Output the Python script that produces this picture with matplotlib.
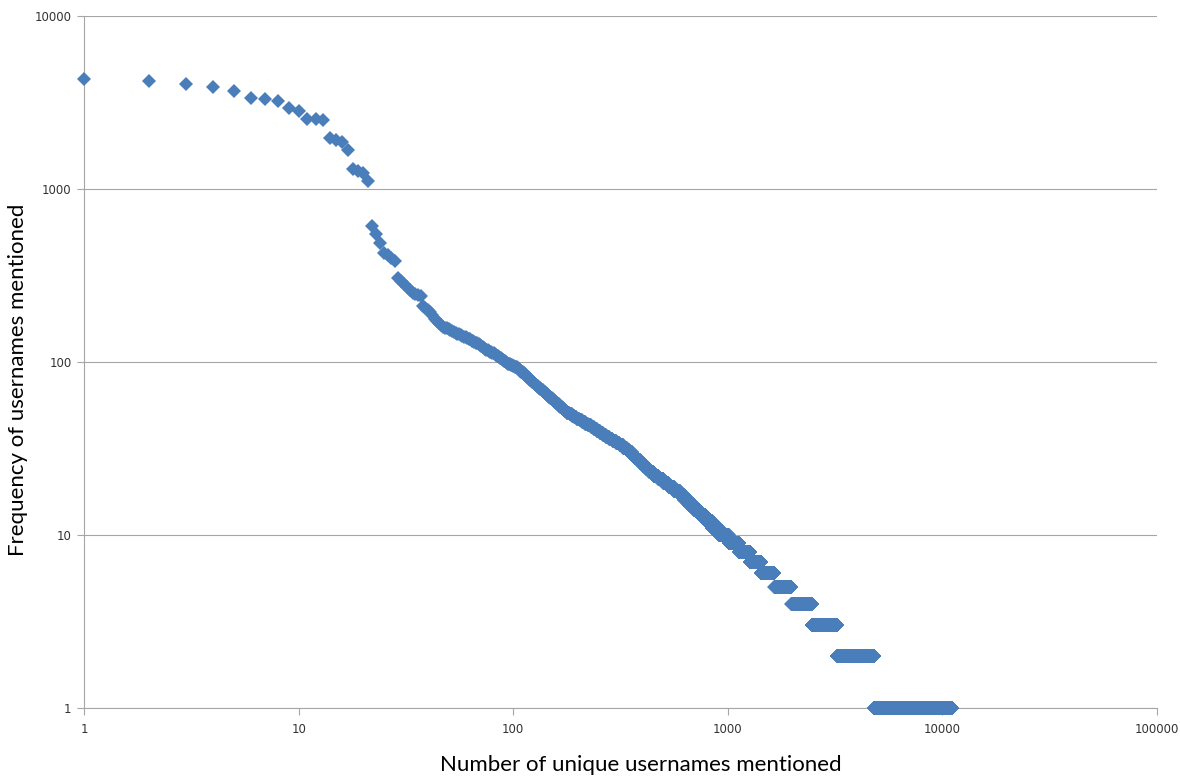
import numpy as np
import matplotlib.pyplot as plt

# Most mentioned usernames: one frequency per rank (ranks 1..103)
head_freq = [4300, 4200, 4050, 3880, 3700, 3350, 3300, 3220, 2940, 2820,
             2540, 2530, 2520, 1970, 1920, 1870, 1680, 1300, 1270, 1240,
             1110, 610, 550, 490, 425, 415, 400, 385, 306, 292,
             283, 272, 262, 250, 246, 244, 242, 212, 205, 200,
             195, 188, 178, 172, 168, 163, 160, 158, 157, 155,
             153, 152, 150, 148, 146, 145, 143, 141, 140, 139,
             138, 136, 135, 133, 132, 130, 129, 128, 127, 126,
             124, 122, 121, 119, 118, 117, 116, 115, 114, 113,
             112, 111, 110, 109, 108, 107, 106, 105, 104, 103,
             102, 101, 100, 99, 98, 97, 97, 96, 96, 95,
             95, 94, 94]

# Lower frequencies: each level and the first rank that has it
level_freq = list(range(93, 0, -1))
level_first_rank = [104, 105, 106, 107, 108, 109, 110, 112, 113, 114,
                    115, 116, 118, 119, 120, 122, 123, 125, 126, 128,
                    129, 131, 132, 134, 136, 138, 139, 141, 143, 145,
                    147, 149, 152, 154, 156, 159, 161, 164, 166, 169,
                    172, 175, 178, 183, 188, 193, 198, 204, 210, 217,
                    223, 231, 238, 246, 254, 262, 271, 281, 291, 302,
                    313, 326, 339, 348, 358, 368, 379, 391, 403, 417,
                    431, 451, 475, 501, 530, 562, 598, 627, 660, 697,
                    739, 788, 844, 910, 1010, 1130, 1270, 1430, 1650, 1980,
                    2460, 3240, 4800]
last_rank = 11100

# rank / frequency table
ranks = list(range(1, len(head_freq) + 1))
freqs = list(head_freq)
ends = level_first_rank[1:] + [last_rank + 1]
for f, start, end in zip(level_freq, level_first_rank, ends):
    r = np.arange(start, end)
    ranks.extend(r)
    freqs.extend([f] * len(r))

fig = plt.figure(figsize=(11.8, 7.77), dpi=100)
ax = fig.add_axes([0.0712, 0.0888, 0.9093, 0.8906])

ax.plot(ranks, freqs, linestyle="none", marker="D", markersize=7.6,
        color="#4a7ebb", markeredgewidth=0, zorder=3, clip_on=False)

ax.set_xscale("log")
ax.set_yscale("log")
ax.set_xlim(1, 100000)
ax.set_ylim(1, 10000)

xt = [1, 10, 100, 1000, 10000, 100000]
yt = [1, 10, 100, 1000, 10000]
ax.set_xticks(xt, [str(v) for v in xt])
ax.set_yticks(yt, [str(v) for v in yt])
ax.minorticks_off()
ax.tick_params(axis="both", length=5, width=0.8, color="#a6a6a6",
               labelsize=8.5, labelcolor="#333333")
ax.tick_params(axis="x", pad=6)
ax.tick_params(axis="y", pad=4)

ax.grid(True, axis="y", color="#a6a6a6", linewidth=0.8)
ax.set_axisbelow(True)
for s in ["top", "right"]:
    ax.spines[s].set_visible(False)
for s in ["left", "bottom"]:
    ax.spines[s].set_color("#a6a6a6")
    ax.spines[s].set_linewidth(0.8)

# axis titles placed like the original
fig.text(0.543, 0.016, "Number of unique usernames mentioned", fontsize=16,
         family="Lato", ha="center", va="center")
fig.text(0.0153, 0.511, "Frequency of usernames mentioned", fontsize=16,
         family="Lato", ha="center", va="center", rotation=90)

fig.savefig("out.png", dpi=100, facecolor="white")
